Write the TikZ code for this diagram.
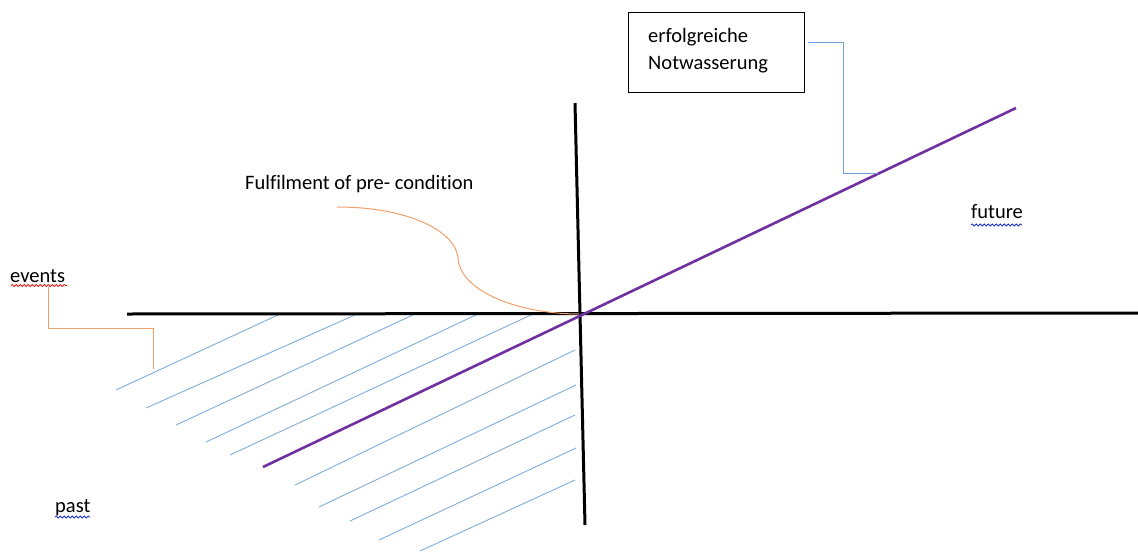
\documentclass[tikz,border=0pt]{standalone}
\usepackage{fontspec}
\setmainfont[Ligatures=NoCommon]{Carlito}
\usetikzlibrary{decorations.pathmorphing}
\definecolor{axiscol}{HTML}{000000}
\definecolor{purplecol}{HTML}{7030A0}
\definecolor{hatchcol}{HTML}{7FAEDB}
\definecolor{orangecol}{HTML}{F0A06A}
\definecolor{bluecon}{HTML}{6FA3DC}
\definecolor{squigred}{HTML}{E02020}
\definecolor{squigblue}{HTML}{2030D0}
\tikzset{
  axisline/.style={line width=3pt, draw=axiscol},
  purpleline/.style={line width=2.6pt, draw=purplecol},
  hatchline/.style={line width=0.9pt, draw=hatchcol},
  orangecon/.style={line width=1pt, draw=orangecol},
  bluecon/.style={line width=1pt, draw=bluecon},
  lbl/.style={font=\fontsize{20.5}{27}\selectfont, inner sep=0pt, text=black},
  labelbox/.style={draw=black, line width=1pt, minimum width=176pt, minimum height=80pt, inner sep=0pt},
  squig/.style={line width=0.8pt, decorate, decoration={snake, amplitude=1.1pt, segment length=4pt}}
}
\begin{document}
\begin{tikzpicture}[x=1pt,y=-1pt]
\useasboundingbox (0,0) rectangle (1138,552);
\fill[white] (0,0) rectangle (1138,552);

% hatching (past region)
\foreach \xa/\ya/\xb/\yb in {
  116/390/280/314, 146/408/357/314, 176/425/415/314, 206/442/478/314, 230/455/533/314,
  295/485/575/350, 319/507/576/385, 350/521/575/415, 379/540/576/448, 420/551/575/480}
  \draw[hatchline] (\xa,\ya) -- (\xb,\yb);

% axes
\coordinate (hl) at (127,314);
\coordinate (hr) at (1138,313);
\coordinate (vt) at (575,103);
\coordinate (vb) at (585,525);
\coordinate (o) at (579,314);
\draw[axisline] (hl) -- (hr);
\draw[axisline] (vt) -- (vb);

% purple line
\coordinate (ps) at (263,467);
\coordinate (pe) at (1016,108);
\coordinate (pc) at (878,173);
\draw[purpleline] (ps) -- (pe);

% box label
\node[labelbox] (box) at (716,52) {};
\node[lbl, anchor=west, align=left] (boxtext) at (648,51) {erfolgreiche\\Notwasserung};
\draw[bluecon] (box.east) ++(3,-10) coordinate (bs) -- (843,42) |- (pc);

% fulfilment label and curve
\node[lbl, anchor=west] (ful) at (245,184) {Fulfilment of pre- condition};
\coordinate (cs) at (337,207);
\coordinate (cm) at (458,258);
\draw[orangecon] (cs) .. controls (410,207) and (456,232) .. (cm)
  .. controls (460,292) and (520,314) .. (o);

% events
\node[lbl, anchor=west] (events) at (10,276) {events};
\draw[orangecon] (48,287) -- (48,328) -- (153,328) -- (153,369);
\draw[squig, draw=squigred] (11,285.5) -- (67,285.5);

% future
\node[lbl, anchor=west] (future) at (971,212) {future};
\draw[squig, draw=squigblue] (971,225) -- (1022,225);

% past
\node[lbl, anchor=west] (past) at (55,508) {past};
\draw[squig, draw=squigblue] (55,517) -- (90,517);
\end{tikzpicture}
\end{document}
